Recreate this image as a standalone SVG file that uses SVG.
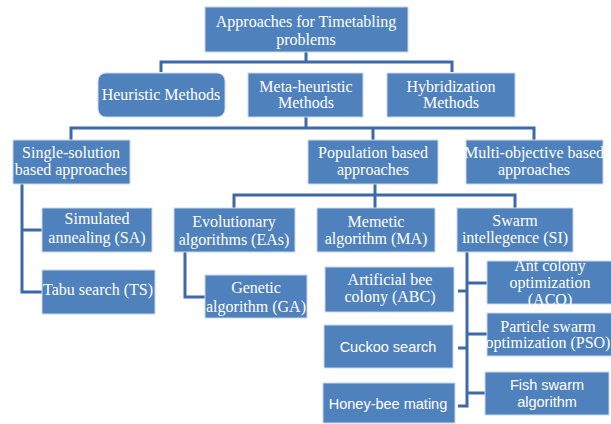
<svg xmlns="http://www.w3.org/2000/svg" width="611" height="424" viewBox="0 0 611 424">
<style>
.b{fill:#4f81bd;stroke:#c9d7ec;stroke-width:1}
.t{font-family:"Liberation Serif","Times New Roman",serif;font-size:16px;fill:#ffffff;text-anchor:middle}
.s{font-family:"Liberation Sans",Arial,sans-serif;font-size:14.5px;fill:#ffffff;text-anchor:middle}
.c{fill:none;stroke:#3d68a9;stroke-width:3;stroke-linejoin:miter}
</style>
<rect width="611" height="424" fill="#ffffff"/>
<g id="connectors">
<path class="c" d="M306,52 V62 M161,72 V62 H452 V72"/>
<path class="c" d="M306,117 V128 M71,140 V128 H534 V140 M373,128 V140"/>
<path class="c" d="M375,184 V208 M234,208 V195 H515 V208"/>
<path class="c" d="M22,184 V292 H42 M22,230 H42"/>
<path class="c" d="M185,252 V297 H205"/>
<path class="c" d="M467,252 V406 H458 M467,283 H487 M467,334 H487 M467,393 H487 M458,291 H467 M458,348 H467"/>
</g>
<g id="n_root"><rect class="b" x="205" y="7" width="203" height="45"/><text class="t" x="306" y="27">Approaches for Timetabling</text><text class="t" x="306" y="45">problems</text></g>
<g id="n_heur"><rect class="b" x="98" y="73" width="127" height="44" rx="8"/><text class="t" x="161" y="100">Heuristic Methods</text></g>
<g id="n_meta"><rect class="b" x="248" y="73" width="115" height="44"/><text class="t" x="306" y="92">Meta-heuristic</text><text class="t" x="306" y="108">Methods</text></g>
<g id="n_hyb"><rect class="b" x="387" y="73" width="128" height="44"/><text class="t" x="451" y="92">Hybridization</text><text class="t" x="451" y="108">Methods</text></g>
<g id="n_single"><rect class="b" x="13" y="140" width="117" height="44"/><text class="t" x="71" y="158">Single-solution</text><text class="t" x="71" y="175">based approaches</text></g>
<g id="n_pop"><rect class="b" x="308" y="140" width="130" height="44"/><text class="t" x="373" y="158">Population based</text><text class="t" x="373" y="175">approaches</text></g>
<g id="n_multi"><rect class="b" x="466" y="140" width="137" height="44"/><text class="t" x="534" y="158">Multi-objective based</text><text class="t" x="534" y="175">approaches</text></g>
<g id="n_sa"><rect class="b" x="42" y="208" width="110" height="44"/><text class="t" x="97" y="224">Simulated</text><text class="t" x="97" y="243">annealing (SA)</text></g>
<g id="n_ts"><rect class="b" x="42" y="270" width="113" height="44"/><text class="t" x="98" y="295">Tabu search (TS)</text></g>
<g id="n_ea"><rect class="b" x="174" y="208" width="121" height="44"/><text class="t" x="234" y="227">Evolutionary</text><text class="t" x="234" y="245">algorithms (EAs)</text></g>
<g id="n_ga"><rect class="b" x="205" y="275" width="102" height="43"/><text class="t" x="256" y="293">Genetic</text><text class="t" x="256" y="312">algorithm (GA)</text></g>
<g id="n_ma"><rect class="b" x="317" y="208" width="118" height="44"/><text class="t" x="376" y="227">Memetic</text><text class="t" x="376" y="244">algorithm (MA)</text></g>
<g id="n_si"><rect class="b" x="457" y="208" width="116" height="44"/><text class="t" x="515" y="226">Swarm</text><text class="t" x="515" y="243">intellegence (SI)</text></g>
<g id="n_abc"><rect class="b" x="325" y="267" width="129" height="45"/><text class="t" x="390" y="285">Artificial bee</text><text class="t" x="390" y="302">colony (ABC)</text></g>
<g id="n_cuckoo"><rect class="b" x="324" y="325" width="129" height="43"/><text class="s" x="388" y="352">Cuckoo search</text></g>
<g id="n_honey"><rect class="b" x="323" y="383" width="132" height="40"/><text class="s" x="388" y="409">Honey-bee mating</text></g>
<g id="n_aco"><rect class="b" x="487" y="261" width="126" height="43"/><text class="t" x="550" y="271">Ant colony</text><text class="t" x="550" y="288">optimization</text><text class="t" x="550" y="305">(ACO)</text></g>
<g id="n_pso"><rect class="b" x="487" y="313" width="126" height="43"/><text class="t" x="548" y="332">Particle swarm</text><text class="t" x="548" y="348">optimization (PSO)</text></g>
<g id="n_fish"><rect class="b" x="485" y="372" width="124" height="43"/><text class="s" x="547" y="390">Fish swarm</text><text class="s" x="547" y="407">algorithm</text></g>
</svg>
